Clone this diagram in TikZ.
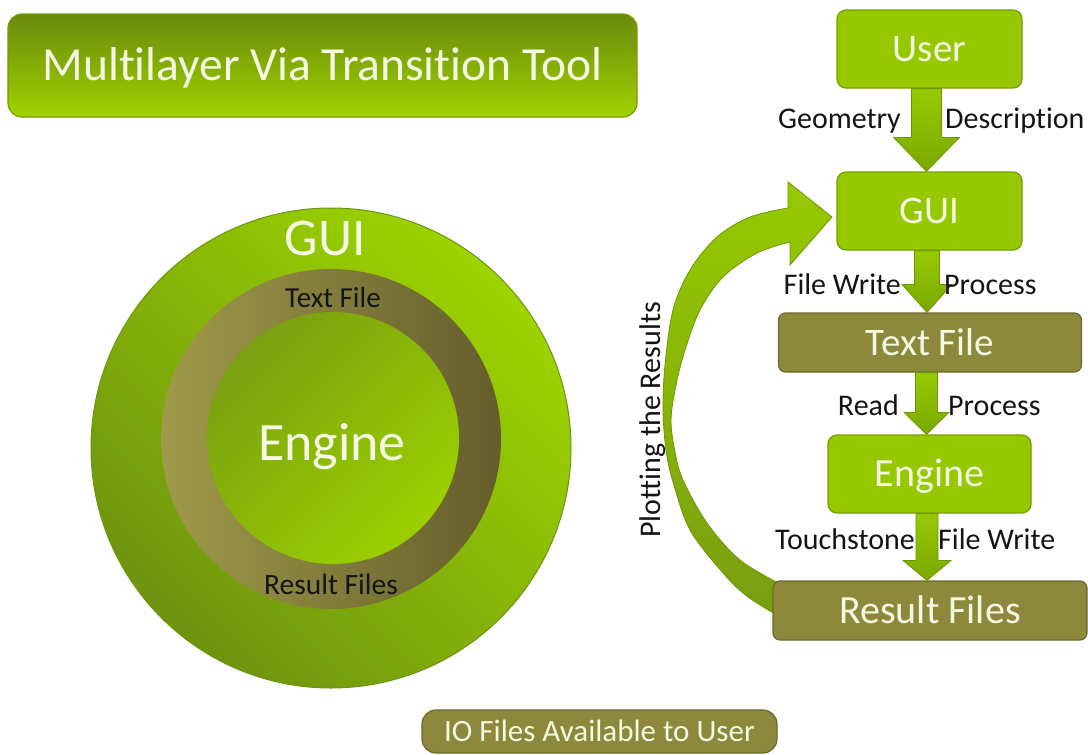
\documentclass[tikz,border=0pt]{standalone}
\usepackage{fontspec}
\setmainfont{Carlito}[Ligatures=NoCommon]
\usetikzlibrary{calc}

\definecolor{limefill}{RGB}{150,200,0}
\definecolor{limeedge}{RGB}{118,158,0}
\definecolor{olivefill}{RGB}{140,136,60}
\definecolor{oliveedge}{RGB}{108,104,44}
\definecolor{boxtext}{RGB}{244,249,225}
\definecolor{labeltext}{RGB}{20,20,20}
\definecolor{titletop}{RGB}{104,138,12}
\definecolor{titlebottom}{RGB}{160,210,0}
\definecolor{ringbright}{RGB}{157,212,0}
\definecolor{ringdark}{RGB}{110,148,16}
\definecolor{olivelight}{RGB}{160,154,74}
\definecolor{olivedark}{RGB}{100,93,44}
\definecolor{coredark}{RGB}{122,160,16}
\definecolor{corebright}{RGB}{155,208,0}
\definecolor{arrowtop}{RGB}{150,202,0}
\definecolor{arrowbottom}{RGB}{122,168,0}
\definecolor{arrowedge}{RGB}{110,150,0}
\definecolor{curvebottom}{RGB}{120,158,16}

\tikzset{
  basebox/.style={inner sep=0pt, text=boxtext, line width=1.2pt, text depth=0pt},
  limebox/.style={basebox, draw=limeedge, fill=limefill, rounded corners=9pt,
    minimum width=185pt, minimum height=78pt,
    font=\fontsize{39}{39}\selectfont, text height=25pt},
  olivebox/.style={basebox, draw=oliveedge, fill=olivefill, rounded corners=7pt,
    minimum height=59pt, font=\fontsize{39}{39}\selectfont, text height=25pt},
  sidelabel/.style={inner sep=0pt, text=labeltext, font=\fontsize{30}{30}\selectfont},
  arrowshade/.style={top color=arrowtop, bottom color=arrowbottom, draw=arrowedge, line width=0.8pt},
}

% straight block arrow from the bottom of one box to the top of the next
\newcommand\flowarrow[5]{%
  \shade[arrowshade] let \p1=(#1.south), \p2=($(#2.north)+(-3,0)$) in
    (\x2-#3,\y1) -- (\x2+#3,\y1) -- (\x2+#3,\y2+#5) -- (\x2+#4,\y2+#5)
    -- (\x2,\y2) -- (\x2-#4,\y2+#5) -- (\x2-#3,\y2+#5) -- cycle;}

\begin{document}
\begin{tikzpicture}[x=1pt, y=-1pt]
\useasboundingbox (0,0) rectangle (1088,755);

% title banner
\node[basebox, top color=titletop, bottom color=titlebottom, draw=limeedge,
  rounded corners=14pt, minimum width=629pt, minimum height=103pt,
  font=\fontsize{47.5}{47.5}\selectfont, text height=30.5pt] (title) at (322.5,65.5)
  {Multilayer Via Transition Tool};

% layered view: GUI around the files around the engine
\node[circle, inner sep=0pt, minimum size=480pt, draw=ringdark, line width=1pt,
  top color=ringbright, bottom color=ringdark, shading angle=-45] (guiring) at (331,448) {};
\node[circle, inner sep=0pt, minimum size=340pt,
  left color=olivelight, right color=olivedark] (filering) at (331,439) {};
\node[circle, inner sep=0pt, minimum size=252pt,
  top color=coredark, bottom color=corebright, shading angle=45] (core) at (333,438) {};

\node[inner sep=0pt, text=boxtext, font=\fontsize{53}{53}\selectfont] (guilabel) at (325,238) {GUI};
\node[inner sep=0pt, text=labeltext, font=\fontsize{29}{29}\selectfont] (txtlabel) at (333,298) {Text File};
\node[inner sep=0pt, text=boxtext, font=\fontsize{54}{54}\selectfont, anchor=base] (englabel) at (332,460) {Engine};
\node[inner sep=0pt, text=labeltext, font=\fontsize{29.5}{29.5}\selectfont] (reslabel) at (331,584) {Result Files};

% feedback arrow from the results back to the GUI
\shade[top color=arrowtop, bottom color=curvebottom, draw=arrowedge, line width=0.8pt]
  plot[smooth, tension=0.55] coordinates {(782,585) (740,560) (707,523) (683,480)
    (675,452) (671,420) (676,385) (685,350) (700,310) (723,277) (757,253) (790,242)}
  -- (790,265) -- (832,217) -- (788,182) -- (788,208)
  -- plot[smooth, tension=0.55] coordinates {(788,208) (750,217) (717,237) (690,270)
    (673,310) (665,365) (663,410) (666,450) (673,482) (690,530) (723,573) (748,597) (782,618)}
  -- cycle;
\node[sidelabel, rotate=90] (plotlabel) at (653,420) {Plotting the Results};

% process flow
\node[limebox] (user) at (929.5,49) {User};
\node[limebox] (gui) at (929.5,211) {GUI};
\node[olivebox, minimum width=303pt] (text) at (930,342.5) {Text File};
\node[limebox, minimum width=203pt, font=\fontsize{40}{40}\selectfont, text height=25.8pt] (engine) at (929.5,474) {Engine};
\node[olivebox, minimum width=314pt, font=\fontsize{40}{40}\selectfont, text height=25.8pt] (result) at (930,610.5) {Result Files};

\flowarrow{user}{gui}{15pt}{33pt}{34pt}
\flowarrow{gui}{text}{12.5pt}{25pt}{28pt}
\flowarrow{text}{engine}{11pt}{22.5pt}{22pt}
\flowarrow{engine}{result}{11pt}{24pt}{20pt}

\node[sidelabel, anchor=base east] (geom) at (901,128) {Geometry};
\node[sidelabel, anchor=base west] (desc) at (945,128) {Description};
\node[sidelabel, anchor=base east] (fwrite) at (901,294) {File Write};
\node[sidelabel, anchor=base west] (proc) at (944,294) {Process};
\node[sidelabel, anchor=base east] (read) at (899,415) {Read};
\node[sidelabel, anchor=base west] (proc2) at (948,415) {Process};
\node[sidelabel, anchor=base east] (touch) at (915,549) {Touchstone};
\node[sidelabel, anchor=base west] (fwrite2) at (938,549) {File Write};

% footer
\node[basebox, draw=oliveedge, fill=olivefill, rounded corners=14pt,
  minimum width=355pt, minimum height=43pt,
  font=\fontsize{31}{31}\selectfont, text height=20pt] (io) at (599.5,731.5)
  {IO Files Available to User};
\end{tikzpicture}
\end{document}
